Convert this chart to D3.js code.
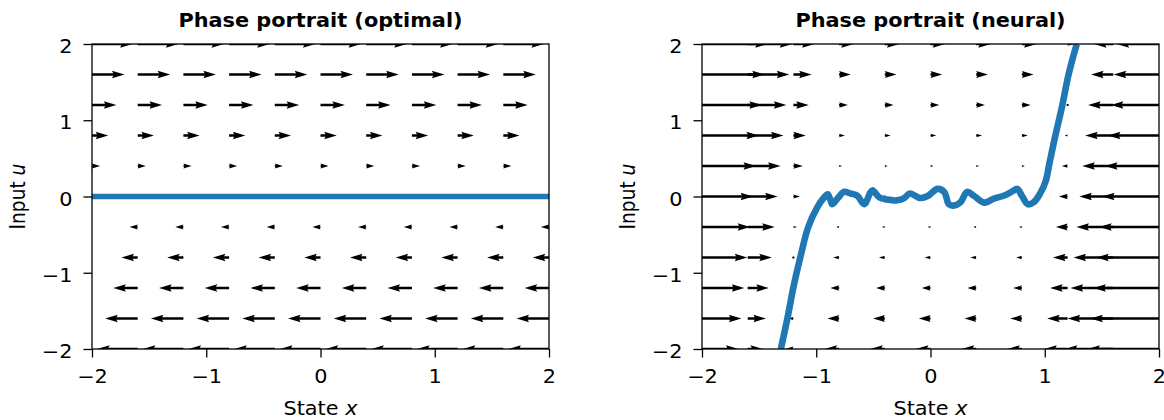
<!DOCTYPE html>
<html>
<head>
<meta charset="utf-8">
<script src="https://cdn.jsdelivr.net/npm/d3@7"></script>
<style>
  body { margin: 0; background: #fff; }
  text { font-family: "DejaVu Sans", sans-serif; fill: #000; }
</style>
</head>
<body>
<div id="chart"></div>
<script>

// quiver grid, same for both panels
const gridX = [-2, -1.6, -1.2, -0.8, -0.4, 0, 0.4, 0.8, 1.2, 1.6, 2];
const gridU = [-2, -1.6, -1.2, -0.8, -0.4, 0, 0.4, 0.8, 1.2, 1.6, 2];

// extra x-dot per grid column
const optimalDrift = [0, 0, 0, 0, 0, 0, 0, 0, 0, 0, 0];
const neuralDrift = [7.0, 4.1, 0.9, 0, 0, 0, 0, 0, -1.2, -4.65, -7.8];

// policy curves u = pi(x)
const optimalX = [-2, 2];
const optimalU = [0, 0];
const neuralX = [-1.31, -1.25, -1.20, -1.14, -1.07, -0.99, -0.93, -0.90, -0.875, -0.86, -0.81, -0.76, -0.70, -0.64,
    -0.58, -0.51, -0.45, -0.38, -0.29, -0.23, -0.18, -0.09, -0.02, 0.06, 0.12, 0.16, 0.20, 0.26, 0.32, 0.38,
    0.47, 0.55, 0.64, 0.72, 0.76, 0.80, 0.85, 0.90, 0.96, 1.01, 1.04, 1.09, 1.15, 1.21, 1.28];
const neuralU = [-2.0, -1.58, -1.19, -0.80, -0.40, -0.14, -0.01, 0.03, -0.05, -0.10, -0.02, 0.06, 0.04, 0.01,
    -0.10, 0.08, -0.01, -0.04, -0.05, -0.02, 0.04, -0.02, 0.01, 0.10, 0.06, -0.10, -0.12, -0.08, 0.06, 0.01,
    -0.08, -0.03, 0.01, 0.07, 0.10, 0.01, -0.10, -0.08, 0.04, 0.21, 0.43, 0.78, 1.17, 1.61, 2.0];

const tickValues = [-2, -1, 0, 1, 2];

const SX = 1.12;   // the source picture is a bit wider than tall
const FONT = 18.6;

const phasePortrait = () => {

    let width = 457,
        height = 305,
        title = "",
        drift = [],
        arrowScale = 20,      // px per unit of x-dot
        shaft = 2.5,          // quiver shaft width, px
        lineWidth = 6,
        polX = [],
        polU = [],
        clipId = "clip";

    const xScale = d3.scaleLinear().domain([-2, 2]),
        yScale = d3.scaleLinear().domain([-2, 2]);

    // matplotlib style quiver arrow, pointing along +x, in px
    function arrowPoints(len) {
        const hl = 5, hal = 4.5, hw = 3, minsh = 5, minlen = 1;
        const L = Math.abs(len) / shaft;
        let pts;
        if (L < minlen) {
            pts = d3.range(6).map(i => [Math.cos(i * Math.PI / 3) * 0.5, Math.sin(i * Math.PI / 3) * 0.5]);
        } else {
            const l = Math.max(L, minsh);
            const half = [[0, 0.5], [l - hal, 0.5], [l - hl, hw / 2], [l, 0]];
            pts = half.concat(half.slice(0, 3).reverse().map(p => [p[0], -p[1]]));
            if (L < minsh) pts = pts.map(p => [p[0] * L / minsh, p[1] * L / minsh]);
        }
        const s = len < 0 ? -1 : 1;
        return pts.map(p => [p[0] * shaft * s, p[1] * shaft]);
    }

    function chart(g) {
        xScale.range([0, width]);
        yScale.range([height, 0]);

        g.append("clipPath").attr("id", clipId)
            .append("rect").attr("width", width).attr("height", height);

        const plot = g.append("g").attr("clip-path", "url(#" + clipId + ")");

        // vector field
        const cells = [];
        gridU.forEach(u => {
            gridX.forEach((x, i) => {
                cells.push({ x: x, u: u, dx: u + drift[i] });
            });
        });

        plot.append("g").selectAll("path")
            .data(cells)
            .enter().append("path")
            .attr("transform", d => "translate(" + xScale(d.x) + "," + yScale(d.u) + ")")
            .attr("d", d => "M" + arrowPoints(d.dx * arrowScale).join("L") + "Z")
            .attr("fill", "#000");

        // policy curve
        const line = d3.line()
            .x(d => xScale(d[0]))
            .y(d => yScale(d[1]))
            .curve(d3.curveCatmullRom.alpha(0.5));

        plot.append("path")
            .attr("fill", "none")
            .attr("stroke", "#1f77b4")
            .attr("stroke-width", lineWidth)
            .attr("stroke-linejoin", "round")
            .attr("d", line(d3.zip(polX, polU)));

        // axes
        const fmt = d => d3.format("d")(d).replace("-", "\u2212");
        const xAxis = g.append("g")
            .attr("transform", "translate(0," + height + ")")
            .call(d3.axisBottom(xScale).tickValues(tickValues).tickSize(8.5).tickPadding(12.5).tickFormat(fmt));
        const yAxis = g.append("g")
            .call(d3.axisLeft(yScale).tickValues(tickValues).tickSize(8.5).tickPadding(11).tickFormat(fmt));

        [xAxis, yAxis].forEach(a => {
            a.select(".domain").remove();
            a.selectAll("line").attr("stroke", "#000").attr("stroke-width", 1.3);
            a.selectAll("text").attr("font-size", FONT).attr("font-family", "DejaVu Sans");
        });
        xAxis.selectAll("text").attr("transform", "scale(" + SX + ",1)");
        yAxis.selectAll("text")
            .attr("x", -19.5 / SX)
            .attr("dy", "0.46em")
            .attr("transform", "scale(" + SX + ",1)");

        g.append("rect")
            .attr("width", width).attr("height", height)
            .attr("fill", "none").attr("stroke", "#000").attr("stroke-width", 1.3);

        // title and labels
        g.append("text")
            .attr("transform", "translate(" + width / 2 + ",-17.5) scale(" + SX + ",1)")
            .attr("text-anchor", "middle")
            .attr("font-size", FONT)
            .attr("font-weight", "bold")
            .text(title);

        const xl = g.append("text")
            .attr("transform", "translate(" + width / 2 + "," + (height + 66) + ") scale(" + SX + ",1)")
            .attr("text-anchor", "middle")
            .attr("font-size", FONT);
        xl.append("tspan").text("State ");
        xl.append("tspan").attr("font-style", "italic").text("x");

        const yl = g.append("text")
            .attr("transform", "translate(-67," + height / 2 + ") scale(" + SX + ",1) rotate(-90)")
            .attr("text-anchor", "middle")
            .attr("font-size", FONT);
        yl.append("tspan").text("Input ");
        yl.append("tspan").attr("font-style", "italic").text("u");
    }

    chart.title = function(_) { if (!arguments.length) return title; title = _; return chart; };
    chart.drift = function(_) { if (!arguments.length) return drift; drift = _; return chart; };
    chart.arrowScale = function(_) { if (!arguments.length) return arrowScale; arrowScale = _; return chart; };
    chart.lineWidth = function(_) { if (!arguments.length) return lineWidth; lineWidth = _; return chart; };
    chart.policy = function(xs, us) { polX = xs; polU = us; return chart; };
    chart.clipId = function(_) { if (!arguments.length) return clipId; clipId = _; return chart; };

    return chart;
};

const svg = d3.select("#chart").append("svg")
    .attr("width", 1164)
    .attr("height", 420)
    .style("background", "#fff");

svg.append("g")
    .attr("transform", "translate(92,44)")
    .call(phasePortrait()
        .title("Phase portrait (optimal)")
        .drift(optimalDrift)
        .arrowScale(20.3)
        .lineWidth(5.6)
        .policy(optimalX, optimalU)
        .clipId("clip-optimal"));

svg.append("g")
    .attr("transform", "translate(702,44)")
    .call(phasePortrait()
        .title("Phase portrait (neural)")
        .drift(neuralDrift)
        .arrowScale(7.3)
        .lineWidth(6.6)
        .policy(neuralX, neuralU)
        .clipId("clip-neural"));

</script>
</body>
</html>
